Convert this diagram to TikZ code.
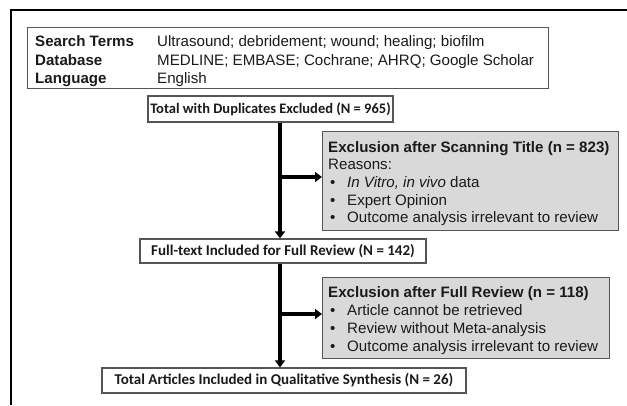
\documentclass[tikz,border=0pt]{standalone}
\usepackage{fontspec}
\setmainfont{Liberation Sans}
\newfontfamily\calfont{Carlito}
\usetikzlibrary{arrows.meta}
\definecolor{boxgray}{HTML}{D9D9D9}
\definecolor{edgegray}{HTML}{555555}
\definecolor{ink}{HTML}{1A1A1A}
\begin{document}
\begin{tikzpicture}[x=1pt,y=-1pt,
  whitebox/.style={draw=edgegray, line width=1.2pt, fill=white, inner sep=0pt,
    font=\calfont\bfseries\fontsize{15}{18}\selectfont, text=ink},
  greybox/.style={draw=edgegray, line width=1.2pt, fill=boxgray, inner sep=0pt, anchor=north west},
  ln/.style={anchor=base west, inner sep=0pt, font=\fontsize{15.1}{18}\selectfont, text=ink},
  lnb/.style={ln, font=\fontsize{15.1}{18}\selectfont\bfseries},
  flow/.style={line width=3.5pt, -{Triangle[width=10pt,length=7pt]}},
]
\useasboundingbox (0,0) rectangle (627,405);
% outer frame
\draw[line width=2pt] (627,10) -- (11,10) -- (11,405);

% criteria box
\node[draw=edgegray, line width=1.2pt, anchor=north west, inner sep=0pt,
      minimum width=521pt, minimum height=61pt] (crit) at (27,27) {};
\node[lnb] (k1) at (35,46.5) {Search Terms};
\node[lnb] (k2) at (35,65) {Database};
\node[lnb] (k3) at (35,83.5) {Language};
\node[ln] (v1) at (157,46.5) {Ultrasound; debridement; wound; healing; biofilm};
\node[ln] (v2) at (157,65) {MEDLINE; EMBASE; Cochrane; AHRQ; Google Scholar};
\node[ln] (v3) at (157,83.5) {English};

% main flow boxes
\node[whitebox, minimum width=245pt, minimum height=26pt,
      font=\calfont\bfseries\fontsize{14.5}{18}\selectfont] (dup) at (270.5,109) {Total with Duplicates Excluded (N = 965)};
\node[whitebox, minimum width=286pt, minimum height=24pt] (full) at (283,251) {Full-text Included for Full Review (N = 142)};
\node[whitebox, minimum width=364pt, minimum height=25pt] (total) at (284,380.5) {Total Articles Included in Qualitative Synthesis (N = 26)};

% exclusion boxes
\node[greybox, minimum width=296pt, minimum height=99pt] (ex1) at (322,131) {};
\node[lnb] (e1t) at (328,152) {Exclusion after Scanning Title (n = 823)};
\node[ln] (e1r) at (328,169.5) {Reasons:};
\node[ln] (e1b1) at (330,187) {\textbullet};
\node[ln] (e1l1) at (347,187) {\textit{In Vitro, in vivo} data};
\node[ln] (e1b2) at (330,205) {\textbullet};
\node[ln] (e1l2) at (347,205) {Expert Opinion};
\node[ln] (e1b3) at (330,222.5) {\textbullet};
\node[ln] (e1l3) at (347,222.5) {Outcome analysis irrelevant to review};

\node[greybox, minimum width=287pt, minimum height=81pt] (ex2) at (322,277) {};
\node[lnb] (e2t) at (328,297) {Exclusion after Full Review (n = 118)};
\node[ln] (e2b1) at (330,315) {\textbullet};
\node[ln] (e2l1) at (347,315) {Article cannot be retrieved};
\node[ln] (e2b2) at (330,333) {\textbullet};
\node[ln] (e2l2) at (347,333) {Review without Meta-analysis};
\node[ln] (e2b3) at (330,351) {\textbullet};
\node[ln] (e2l3) at (347,351) {Outcome analysis irrelevant to review};

% connectors
\coordinate (spine) at (280,0);
\coordinate (br1) at (278.5,177);
\coordinate (br2) at (278.5,314);
\draw[flow] (dup.south -| spine) -- (full.north -| spine);
\draw[flow] (br1) -- (br1 -| ex1.west);
\draw[flow] (full.south -| spine) -- (total.north -| spine);
\draw[flow] (br2) -- (br2 -| ex2.west);
\end{tikzpicture}
\end{document}
